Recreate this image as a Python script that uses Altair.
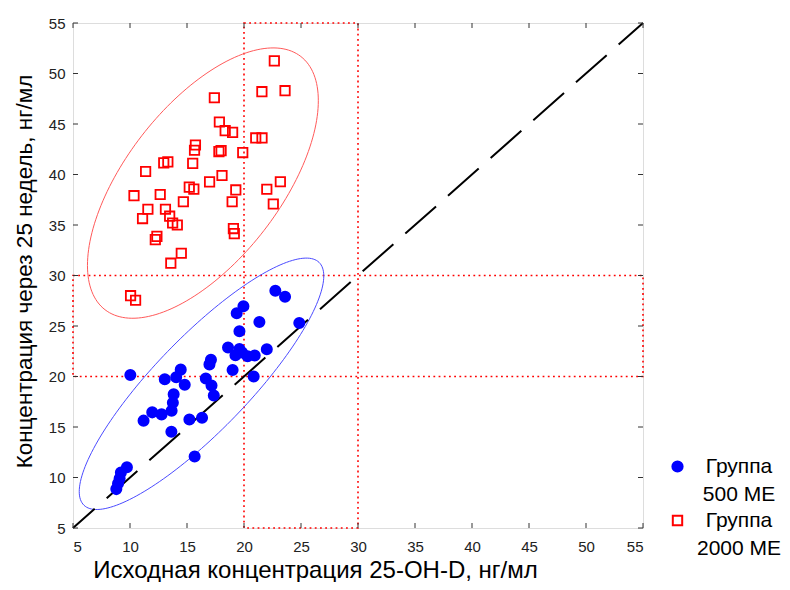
import altair as alt
import pandas as pd
import numpy as np

# ---- data ----
blue_x = [22.75, 23.6, 19.95, 19.36, 21.35, 24.85, 19.6, 18.6, 19.6, 19.25, 19.83, 20.32, 20.94, 22.0,
          19.0, 20.85, 10.03, 17.1, 16.97, 14.45, 13.05, 14.05, 14.8, 16.65, 17.15, 17.35,
          13.83, 13.76, 13.65, 11.95, 12.77, 11.19, 15.21, 16.32, 13.63, 15.67,
          9.73, 9.2, 9.09, 8.95, 8.8]
blue_y = [28.5, 27.9, 26.95, 26.27, 25.4, 25.3, 24.48, 22.88, 22.73, 22.1, 22.38, 22.0, 22.07, 22.7,
          20.65, 20.0, 20.15, 21.65, 21.2, 20.68, 19.72, 19.93, 19.18, 19.8, 19.1, 18.12,
          18.25, 17.4, 16.6, 16.45, 16.25, 15.63, 15.74, 15.92, 14.52, 12.08,
          11.02, 10.5, 9.9, 9.4, 8.85]

red_x = [22.66, 21.57, 23.6, 17.4, 17.84, 18.35, 19.0, 21.03, 21.58, 15.74, 15.66, 17.8, 17.99, 19.89,
         12.96, 13.32, 15.5, 11.37, 18.07, 16.98, 23.19, 10.35, 12.65, 15.2, 15.6, 19.28, 22.0,
         14.68, 18.96, 22.57, 11.57, 13.11, 11.1, 13.48, 13.74, 14.15, 19.07, 19.15, 12.36, 12.22,
         14.5, 13.58, 10.05, 10.49]
red_y = [51.25, 48.2, 48.3, 47.6, 45.2, 44.34, 44.17, 43.62, 43.62, 42.92, 42.4, 42.27, 42.36, 42.17,
         41.15, 41.25, 41.1, 40.3, 39.9, 39.27, 39.28, 37.9, 38.02, 38.75, 38.55, 38.47, 38.54,
         37.3, 37.3, 37.08, 36.56, 36.56, 35.64, 35.87, 35.2, 35.0, 34.65, 34.15, 33.87, 33.55,
         32.2, 31.22, 28.0, 27.55]

groups = ["Группа\n500 МЕ", "Группа\n2000 МЕ"]
group_colors = ["#0000FF", "#FF0000"]
group_shapes = ["circle", "square"]
group_sizes = [105, 88]
ellipse_colors = ["#4B4BFF", "#FF5A5A"]
tick_values = [5, 10, 15, 20, 25, 30, 35, 40, 45, 50, 55]
diag = [5, 55]
# reference regions (x1, x2, y1, y2)
regions_x1 = [20, 5]
regions_x2 = [30, 55]
regions_y1 = [5, 20]
regions_y2 = [55, 30]
ellipse_k = [2.448, 2.6]  # normal ellipse scale per group

x_title = "Исходная концентрация 25-OH-D, нг/мл"
y_title = "Концентрация через 25 недель,  нг/мл"

W, H = 570, 505
FONT = "Liberation Sans"

pts = pd.DataFrame({
    "x": blue_x + red_x,
    "y": blue_y + red_y,
    "g": [groups[0]] * len(blue_x) + [groups[1]] * len(red_x),
})

# confidence ellipses computed from each group's data
ell_rows = []
t = np.linspace(0, 2 * np.pi, 181)
for gi, (xs, ys) in enumerate([(blue_x, blue_y), (red_x, red_y)]):
    xs = np.array(xs); ys = np.array(ys)
    cov = np.cov(xs, ys)
    vals, vecs = np.linalg.eigh(cov)
    circ = np.vstack([np.cos(t), np.sin(t)]) * (ellipse_k[gi] * np.sqrt(vals))[:, None]
    e = vecs @ circ
    for i in range(len(t)):
        ell_rows.append({"ex": xs.mean() + e[0, i], "ey": ys.mean() + e[1, i],
                         "eg": groups[gi], "i": i})
ell = pd.DataFrame(ell_rows)

xs_ = alt.Scale(domain=[5, 55], nice=False, zero=False)
ys_ = alt.Scale(domain=[5, 55], nice=False, zero=False)

x_axis = alt.Axis(values=tick_values, title=x_title, ticks=False, domain=False,
                  grid=False, labelPadding=11, labelFontSize=15, labelColor="#222222",
                  labelFont=FONT, titleFont=FONT,
                  titleFontSize=24, titleFontWeight="normal", titleColor="black",
                  titleX=242, titleY=49, titleBaseline="alphabetic", titleAlign="center")
y_axis = alt.Axis(values=tick_values, title=y_title, ticks=False, domain=False,
                  grid=False, labelPadding=8, labelFontSize=15, labelColor="#222222",
                  labelFont=FONT, titleFont=FONT,
                  titleFontSize=22.5, titleFontWeight="normal", titleColor="black",
                  titleX=-42, titleY=248, titleBaseline="alphabetic", titleAlign="center",
                  titleAngle=-90)

rects = pd.DataFrame({"x1": regions_x1, "x2": regions_x2, "y1": regions_y1, "y2": regions_y2})
rect_layer = alt.Chart(rects).mark_rect(
    fill=None, filled=False, stroke="#FF0000", strokeWidth=1.6, strokeDash=[1.8, 3.4]
).encode(
    x=alt.X("x1:Q", scale=xs_, axis=x_axis), x2="x2:Q",
    y=alt.Y("y1:Q", scale=ys_, axis=y_axis), y2="y2:Q",
)

diag_df = pd.DataFrame({"dx": diag, "dy": diag})
diag_layer = alt.Chart(diag_df).mark_line(
    color="black", strokeWidth=2, strokeDash=[41, 16], strokeDashOffset=12
).encode(
    x=alt.X("dx:Q", scale=xs_),
    y=alt.Y("dy:Q", scale=ys_),
)

ell_layers = []
for gi in range(2):
    ell_layers.append(
        alt.Chart(ell).transform_filter(alt.datum.eg == groups[gi]).mark_line(
            strokeWidth=1, color=ellipse_colors[gi]
        ).encode(
            x=alt.X("ex:Q", scale=xs_),
            y=alt.Y("ey:Q", scale=ys_),
            order="i:Q",
        )
    )

point_layer = alt.Chart(pts).mark_point(
    strokeWidth=1.8, opacity=1, fillOpacity=1, strokeOpacity=1
).encode(
    x=alt.X("x:Q", scale=xs_),
    y=alt.Y("y:Q", scale=ys_),
    color=alt.Color("g:N", scale=alt.Scale(domain=groups, range=group_colors),
                    legend=alt.Legend(title=None, orient="none", legendX=594, legendY=433,
                                      labelFontSize=21, labelFont=FONT,
                                      labelColor="black", labelAlign="center", labelOffset=51,
                                      labelExpr="split(datum.label, '\\n')",
                                      labelBaseline="middle", labelLimit=0,
                                      symbolStrokeWidth=2, rowPadding=4,
                                      padding=0)),
    shape=alt.Shape("g:N", scale=alt.Scale(domain=groups, range=group_shapes)),
    size=alt.Size("g:N", scale=alt.Scale(domain=groups, range=group_sizes)),
    fill=alt.Fill("g:N", scale=alt.Scale(domain=groups, range=["#0000FF", "transparent"])),
)

tick_df = pd.DataFrame({"t": tick_values})
tick_style = dict(color="#333333", strokeWidth=1)
tb = alt.Chart(tick_df).mark_rule(**tick_style).encode(
    x=alt.X("t:Q", scale=xs_), y=alt.value(H), y2=alt.value(H - 5))
tt = alt.Chart(tick_df).mark_rule(**tick_style).encode(
    x=alt.X("t:Q", scale=xs_), y=alt.value(0), y2=alt.value(5))
tl = alt.Chart(tick_df).mark_rule(**tick_style).encode(
    y=alt.Y("t:Q", scale=ys_), x=alt.value(0), x2=alt.value(5))
tr = alt.Chart(tick_df).mark_rule(**tick_style).encode(
    y=alt.Y("t:Q", scale=ys_), x=alt.value(W), x2=alt.value(W - 5))

chart = alt.layer(
    rect_layer, *ell_layers, diag_layer, tb, tt, tl, tr, point_layer
).properties(
    width=W, height=H,
    autosize=alt.AutoSizeParams(type="none"),
    padding={"left": 65, "top": 15, "right": 139, "bottom": 54},
).configure_view(
    stroke="#222222", strokeWidth=1
).configure(
    background="white",
    style={"guide-label": {"lineHeight": 28}},
)

chart.save("out.html", embed_options={"renderer": "svg", "actions": False})
